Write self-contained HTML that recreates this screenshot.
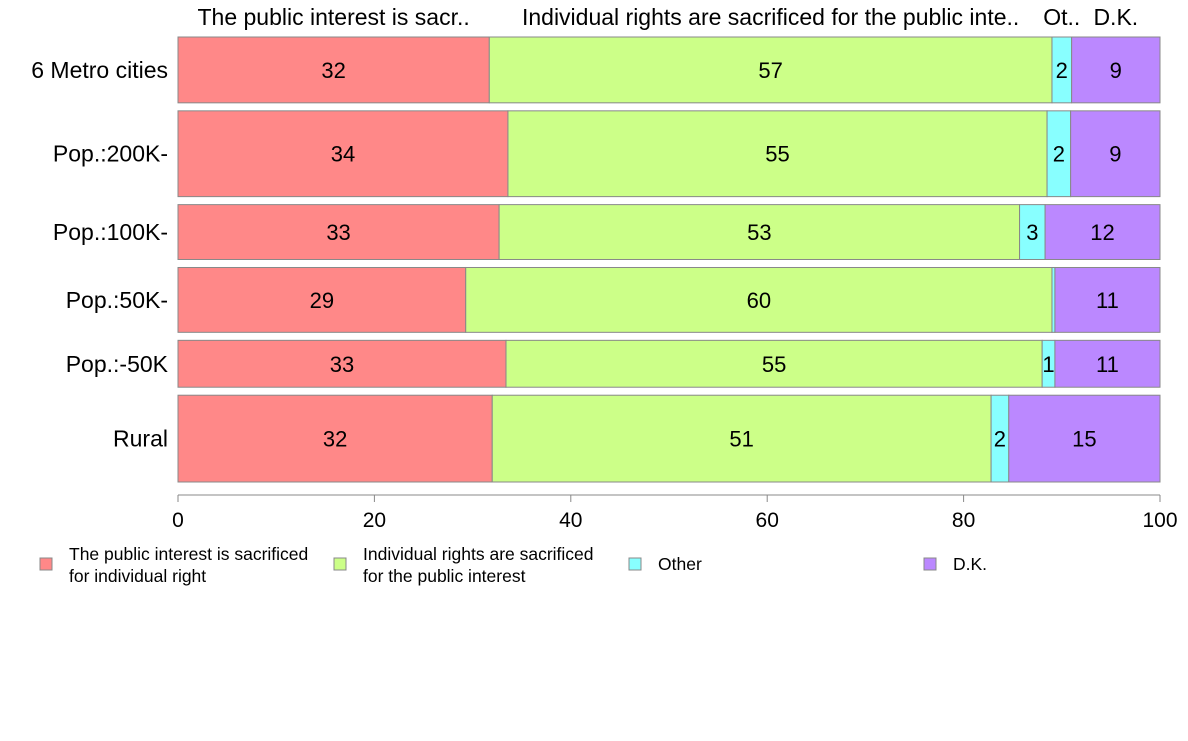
<!DOCTYPE html>
<html><head><meta charset="utf-8"><style>
body{margin:0;background:#fff;font-family:"Liberation Sans",sans-serif}
svg text{font-family:"Liberation Sans",sans-serif}
</style></head><body>
<svg width="1188" height="736">
<g id="chart"></g>
</svg>
<script>
const categories=["6 Metro cities","Pop.:200K-","Pop.:100K-","Pop.:50K-","Pop.:-50K","Rural"];
const seriesNames=["The public interest is sacrificed for individual right","Individual rights are sacrificed for the public interest","Other","D.K."];
const publicInterest=[31.7,33.6,32.7,29.3,33.4,32.0];
const individualRights=[57.3,54.9,53.0,59.7,54.6,50.8];
const other=[2.0,2.4,2.6,0.3,1.3,1.8];
const dk=[9.0,9.1,11.7,10.7,10.7,15.4];
const rowWeights=[66,86,55,65,47,87];
const ticks=[0,20,40,60,80,100];
const headers=["The public interest is sacr..","Individual rights are sacrificed for the public inte..","Ot..","D.K."];
const colors=["#FF8888","#CCFF88","#88FFFF","#BB88FF"];
const NS="http://www.w3.org/2000/svg";
const g=document.getElementById("chart");
const x0=178,x1=1160,yTop=37,yBot=482,gap=8;
const xs=v=>x0+(x1-x0)*v/100;
function mk(t,a,txt){const e=document.createElementNS(NS,t);for(const k in a)e.setAttribute(k,a[k]);if(txt!==undefined)e.textContent=txt;g.appendChild(e);return e;}
const series=[publicInterest,individualRights,other,dk];
const totalW=rowWeights.reduce((a,b)=>a+b,0);
const avail=yBot-yTop-gap*(categories.length-1);
let y=yTop;
categories.forEach((c,i)=>{
  const h=avail*rowWeights[i]/totalW;
  const lab=mk("text",{x:168,y:y+h/2+8,"text-anchor":"end","font-size":23,fill:"#000"},c);
  
  
  let cum=0;
  series.forEach((s,j)=>{
    const v=s[i];
    const r=mk("rect",{x:xs(cum),y:y,width:xs(cum+v)-xs(cum),height:h,fill:colors[j],stroke:"#888","stroke-width":1});
    
    
    if(Math.round(v)>=1){
      const t=mk("text",{x:(xs(cum)+xs(cum+v))/2,y:y+h/2+8,"text-anchor":"middle","font-size":22,fill:"#000"},Math.round(v));
      
      
    }
    if(i===0){
      const ht=mk("text",{x:(xs(cum)+xs(cum+v))/2,y:25,"text-anchor":"middle","font-size":23,fill:"#000"},headers[j]);
      
      
    }
    cum+=v;
  });
  y+=h+gap;
});
const ax=mk("line",{x1:x0,x2:x1,y1:495,y2:495,stroke:"#888"});


ticks.forEach(t=>{
  const tl=mk("line",{x1:xs(t),x2:xs(t),y1:495,y2:502,stroke:"#888"});
  
  
  const tt=mk("text",{x:xs(t),y:527,"text-anchor":"middle","font-size":21,fill:"#000"},t);
  
  
});
const legX=[40,334,629,924];
const legLines=[["The public interest is sacrificed","for individual right"],["Individual rights are sacrificed","for the public interest"],["Other"],["D.K."]];
legLines.forEach((ls,j)=>{
  const b=mk("rect",{x:legX[j],y:558,width:12,height:12,fill:colors[j],stroke:"#888"});
  
  
  ls.forEach((l,k)=>{
    const yy=ls.length===1?570:560+k*22;
    const t=mk("text",{x:legX[j]+29,y:yy,"font-size":17.5,fill:"#000"},l);
    
    
  });
});
</script>
</body></html>
